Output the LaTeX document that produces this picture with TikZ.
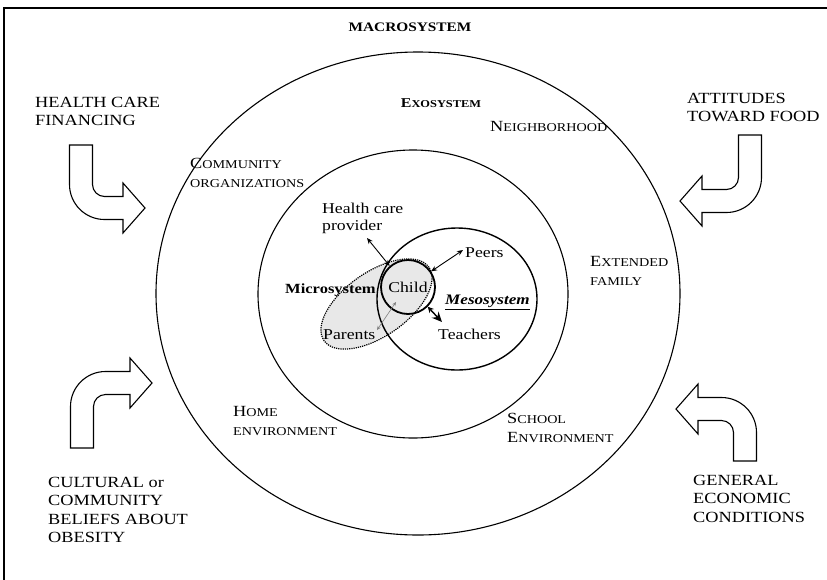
\documentclass[tikz,border=0pt]{standalone}
\usepackage{fontspec}
\setmainfont{Liberation Serif}[FakeStretch=1.18]
\usetikzlibrary{arrows.meta,shapes.geometric}

% hand-made small capitals: a full-size initial followed by reduced capitals
\newcommand\bigsc[2]{{\fontsize{15.5}{18.5}\selectfont #1}{\fontsize{12}{18.5}\selectfont #2}}
\newcommand\lowsc[1]{{\fontsize{12}{18.5}\selectfont #1}}

% bent block arrow in local coordinates (y downwards):
% vertical shaft from the origin, bend, horizontal shaft to the tip
% #1 = drop from the origin to the horizontal shaft axis, #2 = run to the tip
\newcommand\bentarrow[2]{%
  \draw[blockarrow] (-11.5,0) -- (-11.5,#1-23.5)
    .. controls (-11.5,#1-4.2) and (4.2,#1+11.5) .. (23.5,#1+11.5)
    -- (#2-22,#1+11.5) -- (#2-22,#1+25) -- (#2,#1) -- (#2-22,#1-25)
    -- (#2-22,#1-11.5) -- (23.5,#1-11.5)
    .. controls (16.9,#1-11.5) and (11.5,#1-16.9) .. (11.5,#1-23.5)
    -- (11.5,0) -- cycle;}

\begin{document}
\begin{tikzpicture}[x=1pt,y=-1pt,
  ringline/.style={line width=1.1pt},
  outerlbl/.style={font=\fontsize{15.5}{18.5}\selectfont, align=left, inner sep=0pt, anchor=north west},
  ringlbl/.style={font=\fontsize{15.5}{18.5}\selectfont, align=left, inner sep=0pt, anchor=north west},
  innerlbl/.style={font=\fontsize{15}{17}\selectfont, align=left, inner sep=0pt, anchor=north west},
  blockarrow/.style={draw=black, line width=1.1pt, fill=white, line join=miter},
  linkarrow/.style={line width=0.9pt, {Stealth[length=6pt,width=5pt]}-{Stealth[length=6pt,width=5pt]}},
]
\useasboundingbox (0,0) rectangle (827,579);

% frame of the macrosystem
\draw[line width=2pt] (4,8) rectangle (845,600);

% exosystem and microsystem rings
\draw[ringline] (418,293.5) ellipse [x radius=262pt, y radius=241.5pt];
\draw[ringline] (413,294) ellipse [x radius=155pt, y radius=144pt];

% shaded microsystem
\node[draw, ellipse, densely dotted, line width=1.2pt, fill=gray!18,
      minimum width=128pt, minimum height=64pt, inner sep=0pt, rotate=35] (micro) at (376.5,304) {};

% mesosystem and child
\node[draw, ellipse, line width=1.4pt, minimum width=160pt, minimum height=142pt, inner sep=0pt] (meso) at (457,299) {};
\node[draw, circle, line width=1.8pt, minimum size=54pt, inner sep=0pt,
      font=\fontsize{15}{17}\selectfont] (child) at (408,287) {Child};

% titles
\node[font=\fontsize{13}{15}\selectfont\bfseries, inner sep=0pt] (macro) at (410,27) {MACROSYSTEM};
\node[font=\bfseries, inner sep=0pt] (exo) at (441,103)
  {{\fontsize{13.5}{16}\selectfont E}{\fontsize{10.5}{16}\selectfont XOSYSTEM}};

% outside influences
\node[outerlbl] (hcf) at (35,97) {HEALTH CARE\\FINANCING};
\node[outerlbl] (atf) at (687,93) {ATTITUDES\\TOWARD FOOD};
\node[outerlbl] (ccb) at (48,477) {CULTURAL or\\COMMUNITY\\BELIEFS ABOUT\\OBESITY};
\node[outerlbl] (gec) at (693,475) {GENERAL\\ECONOMIC\\CONDITIONS};

% exosystem settings
\node[ringlbl] (comm) at (190,158.5) {\bigsc{C}{OMMUNITY}\\\lowsc{ORGANIZATIONS}};
\node[ringlbl] (neigh) at (490,121.5) {\bigsc{N}{EIGHBORHOOD}};
\node[ringlbl] (ext) at (590,256.5) {\bigsc{E}{XTENDED}\\\lowsc{FAMILY}};
\node[ringlbl] (home) at (233,406.5) {\bigsc{H}{OME}\\\lowsc{ENVIRONMENT}};
\node[ringlbl] (school) at (507,413.5) {\bigsc{S}{CHOOL}\\\bigsc{E}{NVIRONMENT}};

% people around the child
\node[innerlbl] (hcp) at (322,202.5) {Health care\\provider};
\node[innerlbl] (peers) at (465,247) {Peers};
\node[innerlbl] (parents) at (323,329) {Parents};
\node[innerlbl] (teachers) at (438,329) {Teachers};
\node[font=\fontsize{14}{17}\selectfont\bfseries, inner sep=0pt, anchor=north west] (microlbl) at (285,283.5) {Microsystem};
\node[font=\fontsize{14.5}{17}\selectfont\bfseries\itshape, inner sep=0pt, anchor=north west] (mesolbl) at (445,295) {\underline{Mesosystem}};

% links from the child
\coordinate (hcpEnd) at (367,238);
\coordinate (peersEnd) at (463,250);
\coordinate (teachEnd) at (442,322);
\coordinate (parStart) at (396,302);
\coordinate (parEnd) at (377,330);
\draw[linkarrow] (child.131) -- (hcpEnd);
\draw[linkarrow] (child.34) -- (peersEnd);
\draw[line width=1.4pt, {Stealth[length=6pt,width=6pt]}-{Stealth[length=10pt,width=9pt]}] (child.-45) -- (teachEnd);
\draw[gray, line width=0.6pt, {Stealth[length=4pt,width=3.5pt]}-{Stealth[length=4pt,width=3.5pt]}] (parStart) -- (parEnd);

% bent block arrows pointing into the rings
\begin{scope}[shift={(81,145)}] \bentarrow{63}{64} \end{scope}
\begin{scope}[shift={(750,135)}, xscale=-1] \bentarrow{66}{70} \end{scope}
\begin{scope}[shift={(82,448)}, yscale=-1] \bentarrow{65}{70} \end{scope}
\begin{scope}[shift={(745,461)}, xscale=-1, yscale=-1] \bentarrow{52}{69} \end{scope}
\end{tikzpicture}
\end{document}
